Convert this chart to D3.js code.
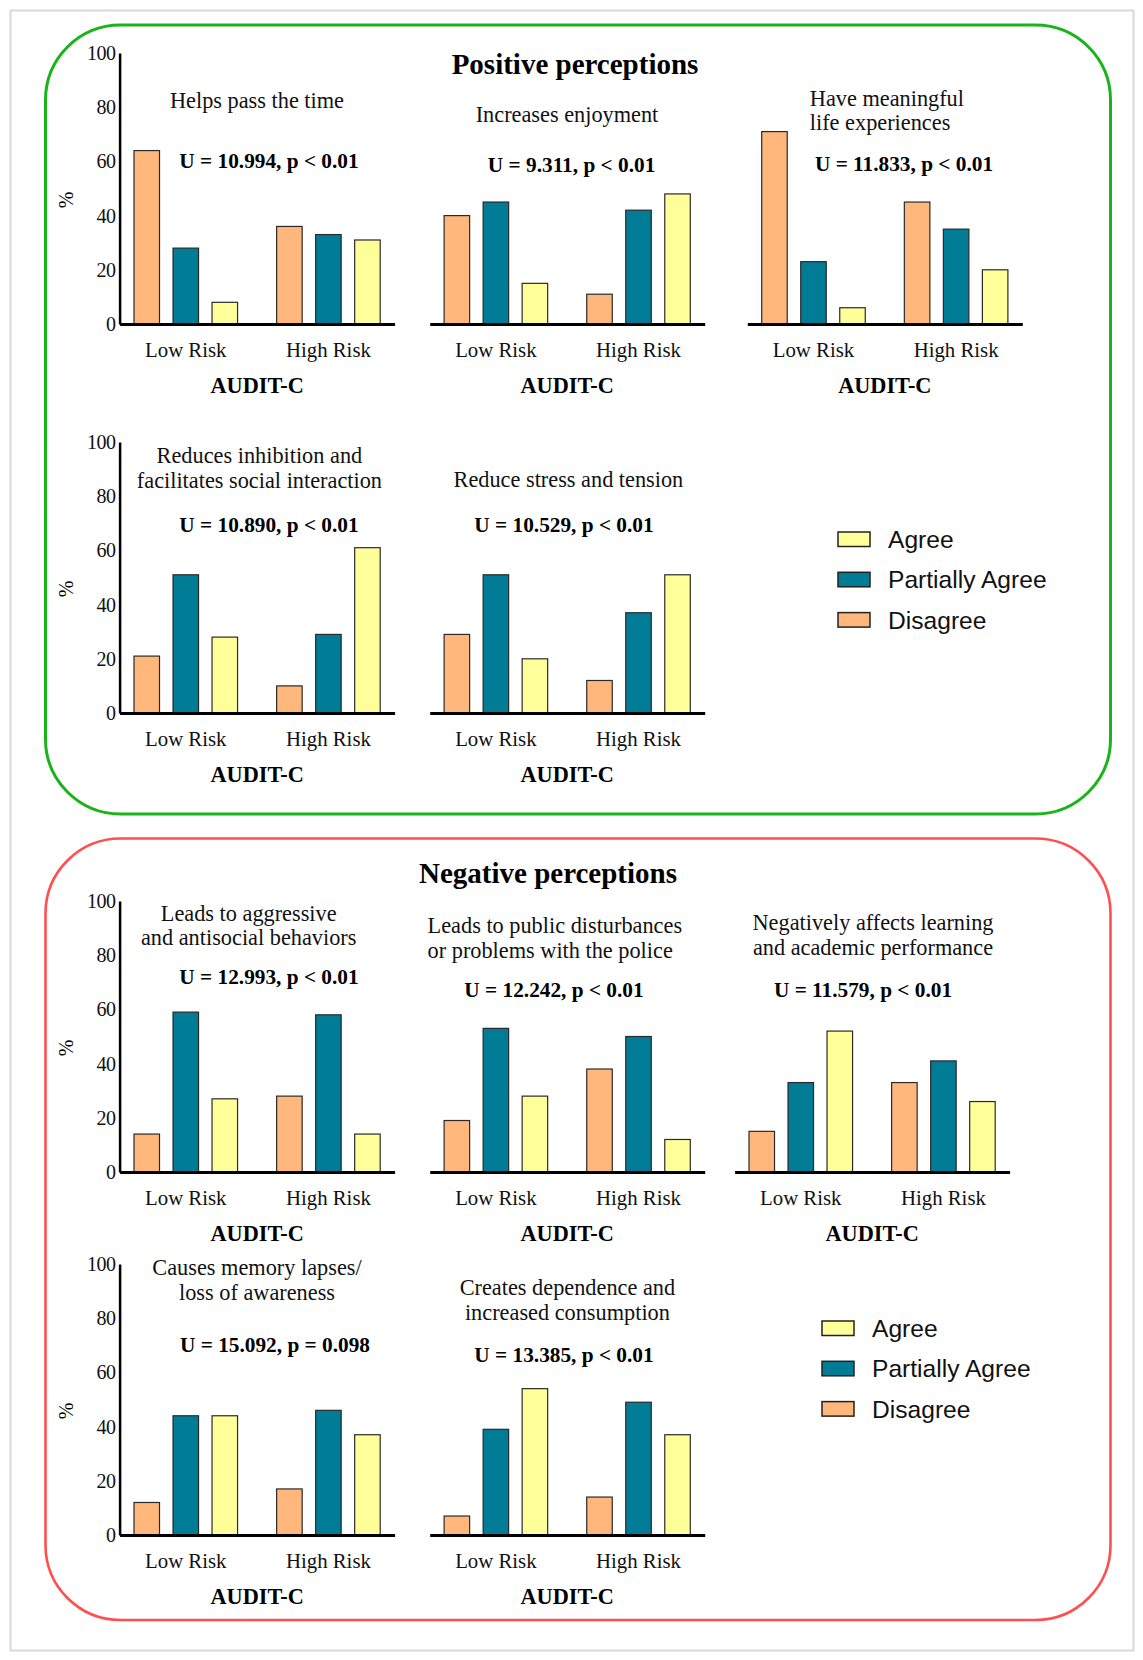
<!DOCTYPE html>
<html><head><meta charset="utf-8">
<script src="https://cdn.jsdelivr.net/npm/d3@7/dist/d3.min.js"></script>
<style>body{margin:0;background:#fff} svg{display:block}</style>
</head><body>
<svg id="chart" width="1143" height="1660"></svg>
<script>
// ---------- DATA ----------
const groups = ["Low Risk", "High Risk"];
const series = ["Disagree", "Partially Agree", "Agree"];
const legendOrder = ["Agree", "Partially Agree", "Disagree"];
const yTicks = [0, 20, 40, 60, 80, 100];
const sectionTitles = ["Positive perceptions", "Negative perceptions"];
const xAxisTitle = "AUDIT-C";
const yAxisTitle = "%";

const panelTitles = [
  ["Helps pass the time"],
  ["Increases enjoyment"],
  ["Have meaningful", "life experiences"],
  ["Reduces inhibition and", "facilitates social interaction"],
  ["Reduce stress and tension"],
  ["Leads to aggressive", "and antisocial behaviors"],
  ["Leads to public disturbances", "or problems with the police"],
  ["Negatively affects learning", "and academic performance"],
  ["Causes memory lapses/", "loss of awareness"],
  ["Creates dependence and", "increased consumption"]
];
const panelStats = [
  "U = 10.994, p < 0.01",
  "U = 9.311, p < 0.01",
  "U = 11.833, p < 0.01",
  "U = 10.890, p < 0.01",
  "U = 10.529, p < 0.01",
  "U = 12.993, p < 0.01",
  "U = 12.242, p < 0.01",
  "U = 11.579, p < 0.01",
  "U = 15.092, p = 0.098",
  "U = 13.385, p < 0.01"
];
// values per panel: [Low Risk [Disagree, Partially, Agree], High Risk [...]]
const helpsPassTime      = [[64, 28, 8],  [36, 33, 31]];
const increasesEnjoyment = [[40, 45, 15], [11, 42, 48]];
const meaningfulLife     = [[71, 23, 6],  [45, 35, 20]];
const reducesInhibition  = [[21, 51, 28], [10, 29, 61]];
const reduceStress       = [[29, 51, 20], [12, 37, 51]];
const aggressive         = [[14, 59, 27], [28, 58, 14]];
const publicDisturbance  = [[19, 53, 28], [38, 50, 12]];
const learning           = [[15, 33, 52], [33, 41, 26]];
const memoryLapses       = [[12, 44, 44], [17, 46, 37]];
const dependence         = [[7, 39, 54],  [14, 49, 37]];
const panelValues = [helpsPassTime, increasesEnjoyment, meaningfulLife, reducesInhibition,
  reduceStress, aggressive, publicDisturbance, learning, memoryLapses, dependence];

// ---------- STYLE / LAYOUT ----------
const colors = {"Disagree": "#FFB77B", "Partially Agree": "#007C96", "Agree": "#FFFF99"};
const serif = "'Liberation Serif','Times New Roman',serif";
const sans = "'Liberation Sans',Arial,sans-serif";
const rowBase = [324, 713, 1172, 1535];
const colX = [119.6, 429.7, 747.3, 734.6];
const plotW = 275, plotH = 271;
const layout = [
  {ox: colX[0], oy: rowBase[0], yAxis: true,  ta: "middle", tx: 257,   ty: [108],          sx: 269, sy: 168},
  {ox: colX[1], oy: rowBase[0], yAxis: false, ta: "middle", tx: 567,   ty: [121.7],        sx: 571.6, sy: 171.7},
  {ox: colX[2], oy: rowBase[0], yAxis: false, ta: "start",  tx: 809.8, ty: [106, 130],     sx: 904, sy: 170.7},
  {ox: colX[0], oy: rowBase[1], yAxis: true,  ta: "middle", tx: 259.4, ty: [463.3, 488.3], sx: 269, sy: 531.7},
  {ox: colX[1], oy: rowBase[1], yAxis: false, ta: "middle", tx: 568.4, ty: [486.7],        sx: 564, sy: 531.7},
  {ox: colX[0], oy: rowBase[2], yAxis: true,  ta: "middle", tx: 248.7, ty: [920.7, 945],   sx: 269, sy: 984},
  {ox: colX[1], oy: rowBase[2], yAxis: false, ta: "start",  tx: 427.6, ty: [933.3, 958.3], sx: 554, sy: 996.7},
  {ox: colX[3], oy: rowBase[2], yAxis: false, ta: "middle", tx: 873,   ty: [930, 955],     sx: 863, sy: 996.7},
  {ox: colX[0], oy: rowBase[3], yAxis: true,  ta: "middle", tx: 257,   ty: [1275, 1300],   sx: 275, sy: 1351.7},
  {ox: colX[1], oy: rowBase[3], yAxis: false, ta: "middle", tx: 567.4, ty: [1295, 1320],   sx: 564, sy: 1361.7}
];

const svg = d3.select("#chart");

svg.append("rect").attr("x", 10.5).attr("y", 10.5).attr("width", 1123).attr("height", 1640)
  .attr("fill", "none").attr("stroke", "#d9d9d9").attr("stroke-width", 2);
svg.append("rect").attr("x", 45.5).attr("y", 25).attr("width", 1065).attr("height", 789)
  .attr("rx", 75).attr("ry", 75).attr("fill", "none").attr("stroke", "#19b419").attr("stroke-width", 3);
svg.append("rect").attr("x", 45.5).attr("y", 838.5).attr("width", 1065).attr("height", 781.5)
  .attr("rx", 75).attr("ry", 75).attr("fill", "none").attr("stroke", "#ff4f4f").attr("stroke-width", 2.6);

svg.append("text").attr("x", 575).attr("y", 74).attr("text-anchor", "middle")
  .style("font-family", serif).style("font-weight", "bold").style("font-size", "29px").text(sectionTitles[0]);
svg.append("text").attr("x", 548).attr("y", 883).attr("text-anchor", "middle")
  .style("font-family", serif).style("font-weight", "bold").style("font-size", "29px").text(sectionTitles[1]);

function drawPanel(values, L, titleLines, stat) {
  const g = svg.append("g");
  const x0 = d3.scaleBand().domain(groups).range([L.ox, L.ox + plotW])
    .paddingInner(0.274).paddingOuter(0.101);
  const x1 = d3.scaleBand().domain(series).range([0, x0.bandwidth()])
    .paddingInner(0.346).paddingOuter(0);
  const y = d3.scaleLinear().domain([0, 100]).range([L.oy, L.oy - plotH]);

  const data = [];
  groups.forEach((grp, gi) => series.forEach((s, si) => data.push({grp, s, v: values[gi][si]})));
  g.selectAll("rect.bar").data(data).join("rect").attr("class", "bar")
    .attr("x", d => x0(d.grp) + x1(d.s))
    .attr("y", d => y(d.v))
    .attr("width", x1.bandwidth())
    .attr("height", d => y(0) - y(d.v))
    .attr("fill", d => colors[d.s])
    .attr("stroke", "#2a2a2a").attr("stroke-width", 1.2);

  const xa = g.append("g").attr("transform", `translate(0,${L.oy})`)
    .call(d3.axisBottom(x0).tickSize(0).tickSizeOuter(0));
  xa.select(".domain").attr("stroke", "#000").attr("stroke-width", 3);
  xa.selectAll("text").attr("y", 33).attr("dy", 0)
    .style("font-family", serif).style("font-size", "20.8px").attr("fill", "#111");

  if (L.yAxis) {
    const ya = g.append("g").attr("transform", `translate(${L.ox},0)`)
      .call(d3.axisLeft(y).tickValues(yTicks).tickSize(0).tickSizeOuter(0).tickPadding(4));
    ya.select(".domain").attr("stroke", "#000").attr("stroke-width", 2.5);
    ya.selectAll("text").style("font-family", serif).style("font-size", "20px")
      .style("letter-spacing", "-0.5px").attr("fill", "#111");
    g.append("text").attr("transform", `translate(65.6,${L.oy - 124}) rotate(-90)`)
      .attr("text-anchor", "middle").attr("dy", "0.35em")
      .style("font-family", serif).style("font-size", "20px").text(yAxisTitle);
  }

  g.append("text").attr("x", L.ox + plotW / 2).attr("y", L.oy + 69).attr("text-anchor", "middle")
    .style("font-family", serif).style("font-weight", "bold").style("font-size", "22.3px").text(xAxisTitle);

  titleLines.forEach((t, i) => {
    g.append("text").attr("x", L.tx).attr("y", L.ty[i]).attr("text-anchor", L.ta)
      .style("font-family", serif).style("font-size", "22.3px").attr("fill", "#111").text(t);
  });
  g.append("text").attr("x", L.sx).attr("y", L.sy).attr("text-anchor", "middle")
    .style("font-family", serif).style("font-weight", "bold").style("font-size", "21.3px").text(stat);
}

panelValues.forEach((vals, i) => drawPanel(vals, layout[i], panelTitles[i], panelStats[i]));

function drawLegend(x, y0, step) {
  const g = svg.append("g");
  legendOrder.forEach((s, i) => {
    g.append("rect").attr("x", x).attr("y", y0 + i * step).attr("width", 32).attr("height", 14.5)
      .attr("fill", colors[s]).attr("stroke", "#222").attr("stroke-width", 1.5);
    g.append("text").attr("x", x + 50).attr("y", y0 + i * step + 16)
      .style("font-family", sans).style("font-size", "24.6px").attr("fill", "#111").text(s);
  });
}
drawLegend(838, 532, 40.3);
drawLegend(822, 1321, 40.3);
</script>
</body></html>
